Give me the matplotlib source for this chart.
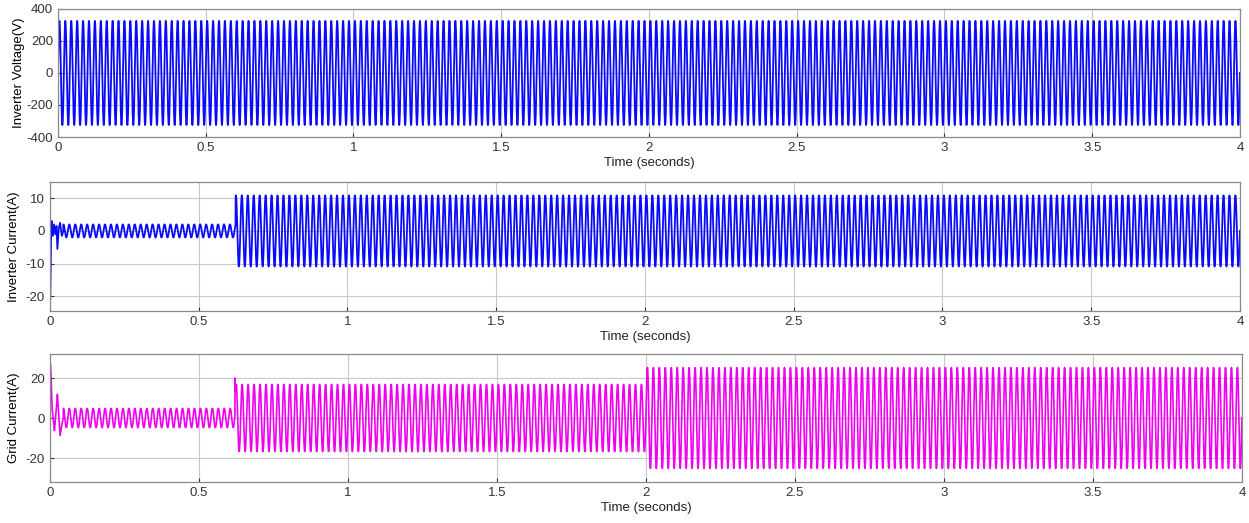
import numpy as np
import matplotlib
matplotlib.use("Agg")
import matplotlib.pyplot as plt
from matplotlib.ticker import FuncFormatter, MultipleLocator


# ==============================
# DATA
# ==============================

FREQ_HZ = 50.0
T_END = 4.0

# inverter voltage: one steady segment
volt_edges = [0.0, 4.0]
volt_amp = [325.0]

# inverter current: small current until load switch, then full current
inv_edges = [0.045, 0.624, 4.0]
inv_amp = [2.0, 10.9]
# start-up transient points (t, value)
inv_tr_t = [0.0, 0.001, 0.004, 0.006, 0.010, 0.014, 0.018, 0.022, 0.025, 0.029, 0.034, 0.040, 0.045]
inv_tr_v = [-21.0, -21.0, 0.0, 3.0, -1.5, 2.0, -1.0, 1.5, -5.5, 0.5, 2.5, -1.5, 0.0]

# grid current: three steady segments
grid_edges = [0.045, 0.621, 2.0, 4.0]
grid_amp = [4.8, 16.8, 25.2]
grid_tr_t = [0.0, 0.002, 0.007, 0.011, 0.015, 0.020, 0.025, 0.030, 0.034, 0.040, 0.045]
grid_tr_v = [27.0, 27.0, 5.0, 0.0, -6.3, 2.0, 11.8, 0.0, -8.8, -3.0, 0.0]
grid_step_peak = 20.0  # first peak after the switch at 0.621 s

BLUE = "#0a0aff"
MAGENTA = "#f000f0"


# ==============================
# BUILD WAVEFORMS
# ==============================

def carrier(t):
    return np.sin(2 * np.pi * FREQ_HZ * t)


def segmented_wave(t, edges, amps):
    y = np.full_like(t, np.nan)
    for (a, b), amp in zip(zip(edges[:-1], edges[1:]), amps):
        m = (t >= a) & (t <= b)
        y[m] = amp * carrier(t[m])
    return y


t = np.linspace(0, T_END, 16001)

v_inv = segmented_wave(t, volt_edges, volt_amp)

i_inv = segmented_wave(t, inv_edges, inv_amp)
m = t < inv_edges[0]
i_inv[m] = np.interp(t[m], inv_tr_t, inv_tr_v)

i_grid = segmented_wave(t, grid_edges, grid_amp)
m = t < grid_edges[0]
i_grid[m] = np.interp(t[m], grid_tr_t, grid_tr_v)
# overshoot right after the switch
k = np.searchsorted(t, grid_edges[1])
i_grid[k:k + 8] = np.linspace(grid_step_peak, i_grid[k + 8], 8)


# ==============================
# PLOT
# ==============================

def fmt_x(x, pos):
    return f"{x:g}"


def style_axis(ax, ylim, yticks):
    ax.set_xlim(0, T_END)
    ax.set_ylim(*ylim)
    ax.set_yticks(yticks)
    ax.xaxis.set_major_locator(MultipleLocator(0.5))
    ax.xaxis.set_major_formatter(FuncFormatter(fmt_x))
    ax.grid(True, color="#c8c8c8", linewidth=0.8)
    ax.set_axisbelow(True)
    for s in ax.spines.values():
        s.set_color("#8a8a8a")
        s.set_linewidth(0.9)
    ax.tick_params(labelsize=9.5, colors="#333333", length=3, direction="in")
    ax.set_xlabel("Time (seconds)", fontsize=9.5, color="#222222", labelpad=2)


plt.rcParams["font.family"] = ["Liberation Sans", "DejaVu Sans"]
plt.rcParams["axes.unicode_minus"] = False

fig = plt.figure(figsize=(12.49, 5.23), dpi=100)

ax1 = fig.add_axes([0.0464, 0.738, 0.9463, 0.245])
ax2 = fig.add_axes([0.0400, 0.4054, 0.9527, 0.2467])
ax3 = fig.add_axes([0.0400, 0.0784, 0.9543, 0.2447])

ax1.plot(t, v_inv, color=BLUE, linewidth=1.3)
style_axis(ax1, (-400, 400), [-400, -200, 0, 200, 400])
ax1.set_ylabel("Inverter Voltage(V)", fontsize=9.5, labelpad=1)

ax2.plot(t, i_inv, color=BLUE, linewidth=1.3)
style_axis(ax2, (-24.5, 15), [-20, -10, 0, 10])
ax2.set_ylabel("Inverter Current(A)", fontsize=9.5, labelpad=4)

ax3.plot(t, i_grid, color=MAGENTA, linewidth=1.2)
style_axis(ax3, (-32, 32), [-20, 0, 20])
ax3.set_ylabel("Grid Current(A)", fontsize=9.5, labelpad=4)

fig.savefig("out.png", dpi=100)
